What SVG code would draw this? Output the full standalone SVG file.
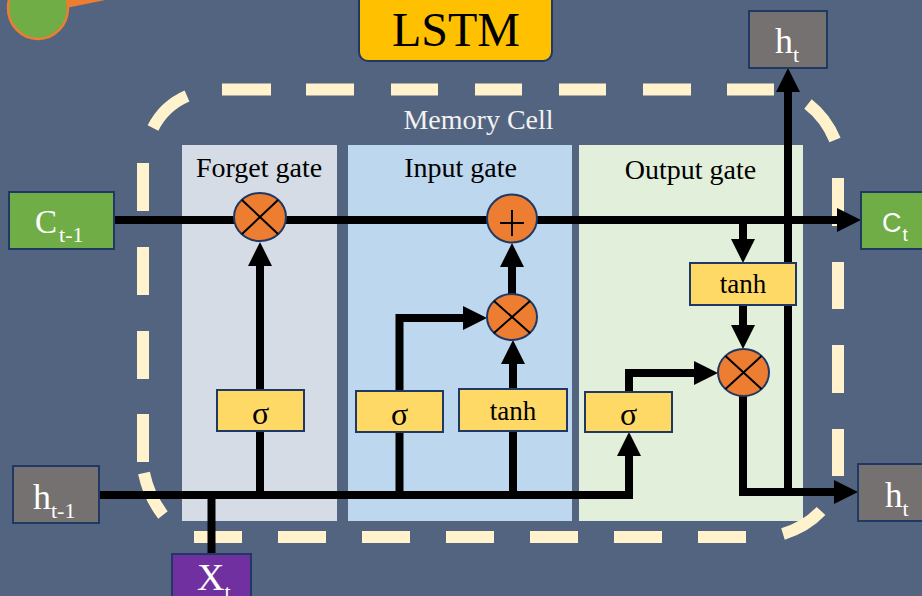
<svg xmlns="http://www.w3.org/2000/svg" width="922" height="596" viewBox="0 0 922 596">
<style>
.serif{font-family:"Liberation Serif","Times New Roman",serif}
.sans{font-family:"Liberation Sans",Arial,sans-serif}
.box{stroke:#1F3864;stroke-width:2}
.yel{fill:#FFD966}
.gry{fill:#767171}
.op{fill:#ED7D31;stroke:#1F3864;stroke-width:2}
.sym{stroke:#000;stroke-width:2;fill:none}
.ln{fill:none;stroke:#000;stroke-width:8;stroke-linejoin:miter}
.arr{marker-end:url(#ah)}
.lbl{font-size:28px;fill:#000;text-anchor:middle}
.wt{fill:#fff}
</style>
<defs>
<marker id="ah" markerUnits="userSpaceOnUse" viewBox="0 0 24 24" markerWidth="24" markerHeight="24" refX="12" refY="12" orient="auto">
<path d="M0,0L24,12L0,24z" fill="#000"/>
</marker>
</defs>
<rect width="922" height="596" fill="#526480"/>
<!-- top-left decoration -->
<line x1="60" y1="4" x2="200" y2="-24" stroke="#ED7D31" stroke-width="10"/>
<ellipse cx="38" cy="8" rx="30" ry="31" fill="#70AD47" stroke="#ED7D31" stroke-width="2.5"/>
<!-- title -->
<g id="title">
<rect x="359" y="-10" width="193" height="71" rx="9" fill="#FFC000" class="box"/>
<text x="456" y="46" class="serif" font-size="48" text-anchor="middle" fill="#000">LSTM</text>
</g>
<!-- gate panels -->
<g id="forget-gate">
<rect x="182" y="145" width="155" height="376" fill="#D6DCE5"/>
<text x="259" y="177" class="serif lbl">Forget gate</text>
</g>
<g id="input-gate">
<rect x="348" y="145" width="224" height="376" fill="#BDD7EE"/>
<text x="460.5" y="177" class="serif lbl">Input gate</text>
</g>
<g id="output-gate">
<rect x="579" y="145" width="224" height="376" fill="#E2EFDA"/>
<text x="690.5" y="179" class="serif lbl">Output gate</text>
</g>
<!-- memory cell border -->
<g id="memory-cell">
<path fill="none" stroke="#FFF2CC" stroke-width="12" d="M222,89.5H271M306,89.5H354M391,89.5H438M475,89.5H522M559,89.5H606M643,89.5H691M727,89.5H774
M808,104Q826,118 835,140
M838,178V226M838,262V309M838,345V393M838,429V476
M821,511Q806,527 783,534
M746,537H698M662,537H614M578,537H530M494,537H446M410,537H362M326,537H278M242,537H194
M163,515Q149,497 144,473
M143,462V414M143,379V331M143,295V247M143,211V163
M153,128Q164,106 187,96"/>
<text x="478.5" y="129" class="serif" font-size="28" text-anchor="middle" fill="#F2F2F2">Memory Cell</text>
</g>
<!-- connectors -->
<g id="connectors">
<path class="ln arr" d="M114,220H849"/>
<path class="ln arr" d="M260,390V254"/>
<path class="ln" d="M260,431V495"/>
<path class="ln arr" d="M99,495H629V444"/>
<path class="ln" d="M211.5,495V554"/>
<path class="ln" d="M399.5,495V432"/>
<path class="ln arr" d="M399.5,391V318H475"/>
<path class="ln" d="M513,495V431"/>
<path class="ln arr" d="M513,389V352"/>
<path class="ln arr" d="M512,294V255"/>
<path class="ln arr" d="M743,220V251"/>
<path class="ln arr" d="M743,305V337"/>
<path class="ln arr" d="M629,392V373H706"/>
<path class="ln arr" d="M743,396V492H846"/>
<path class="ln arr" d="M788,492V80"/>
</g>
<!-- input/output nodes -->
<g id="c-prev">
<rect x="9" y="192" width="105" height="57" fill="#70AD47" class="box"/>
<text x="35" y="233" class="serif wt" font-size="33">C<tspan font-size="22" dx="2" dy="9">t-1</tspan></text>
</g>
<g id="c-next">
<rect x="861" y="192" width="105" height="57" fill="#70AD47" class="box"/>
<text x="882" y="232" class="sans wt" font-size="27">C<tspan font-size="19" dx="1" dy="9">t</tspan></text>
</g>
<g id="h-prev">
<rect x="13" y="466" width="86" height="57" class="box gry"/>
<text x="33" y="509" class="serif wt" font-size="36">h<tspan font-size="22" dy="9">t-1</tspan></text>
</g>
<g id="h-out-top">
<rect x="749" y="11" width="78" height="57" class="box gry"/>
<text x="775" y="53" class="serif wt" font-size="36">h<tspan font-size="22" dy="9">t</tspan></text>
</g>
<g id="h-out-right">
<rect x="858" y="464" width="78" height="57" class="box gry"/>
<text x="885" y="507" class="serif wt" font-size="35">h<tspan font-size="22" dy="9">t</tspan></text>
</g>
<g id="x-in">
<rect x="172" y="554" width="79" height="57" fill="#7030A0" class="box"/>
<text x="197" y="590" class="serif wt" font-size="38">X<tspan font-size="22" dy="9">t</tspan></text>
</g>
<!-- gate units -->
<g id="forget-sigma">
<rect x="217" y="390" width="87" height="41" class="box yel"/>
<text x="260.5" y="424" class="serif" font-size="32" text-anchor="middle">σ</text>
</g>
<g id="forget-mult">
<ellipse cx="260" cy="217" rx="26" ry="24" class="op"/>
<path class="sym" d="M242,200L278,234M278,200L242,234"/>
</g>
<g id="input-sigma">
<rect x="356" y="391" width="87" height="41" class="box yel"/>
<text x="399.5" y="425" class="serif" font-size="32" text-anchor="middle">σ</text>
</g>
<g id="input-tanh">
<rect x="459" y="389" width="108" height="42" class="box yel"/>
<text x="513" y="420" class="serif" font-size="27" text-anchor="middle">tanh</text>
</g>
<g id="input-mult">
<ellipse cx="512" cy="317" rx="25" ry="23" class="op"/>
<path class="sym" d="M494,301L530,333M530,301L494,333"/>
</g>
<g id="cell-add">
<ellipse cx="512" cy="218.5" rx="25" ry="24" class="op"/>
<path class="sym" stroke-width="2.5" d="M500,223H524M512,210V236"/>
</g>
<g id="output-sigma">
<rect x="585" y="392" width="87" height="40" class="box yel"/>
<text x="628.5" y="425" class="serif" font-size="32" text-anchor="middle">σ</text>
</g>
<g id="output-tanh">
<rect x="690" y="263" width="106" height="42" class="box yel"/>
<text x="743" y="293" class="serif" font-size="27" text-anchor="middle">tanh</text>
</g>
<g id="output-mult">
<ellipse cx="743.5" cy="372.5" rx="25.5" ry="23.5" class="op"/>
<path class="sym" d="M725.5,356L761.5,389M761.5,356L725.5,389"/>
</g>
</svg>
